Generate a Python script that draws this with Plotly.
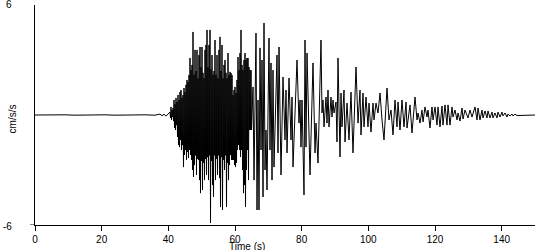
import plotly.graph_objects as go

# ---- data ----
# quiet pre-event record
pre_time = [0, 3, 6, 9, 12, 15, 18, 21, 24, 27, 30, 33, 36, 37.5, 38.1, 38.7, 39.3, 39.9]
pre_accel = [0.0, 0.01, -0.01, 0.01, -0.01, 0.01, -0.01, 0.01, -0.01, 0.01, -0.01, 0.01,
             -0.01, 0.05, -0.04, 0.04, -0.06, 0.08]

# strong-motion part, sampled every 0.15 s from 40.5 s
dense_start = 40.5
dense_step = 0.15
dense_accel = [
    0.16, -0.16, 0.44, -0.27, 0.27, -0.11, 0.38, -0.33, 0.82, -0.71,
    0.60, -0.82, 0.93, -0.55, 0.71, -1.20, 1.09, -1.64, 0.82, -1.75,
    1.25, -1.36, 1.36, -1.91, 0.93, -1.64, 1.09, -2.84, 1.47, -2.18,
    1.25, -1.91, 1.64, -2.45, 1.91, -2.02, 1.80, -2.35, 2.18, -1.91,
    3.11, -2.18, 2.45, -2.45, 2.73, -3.00, 4.53, -3.38, 2.20, -2.73,
    3.55, -2.20, 2.40, -3.27, 3.55, -2.40, 2.00, -2.45, 3.27, -3.55,
    3.71, -4.26, 2.60, -2.50, 3.71, -4.09, 2.30, -2.60, 2.00, -3.55,
    3.55, -2.40, 3.82, -3.27, 4.64, -2.30, 2.60, -3.55, 3.82, -2.20,
    4.64, -5.89, 2.50, -2.50, 3.27, -3.82, 2.20, -4.47, 2.40, -2.20,
    4.09, -3.55, 2.20, -2.40, 3.27, -3.27, 2.00, -2.20, 3.55, -3.44,
    4.26, -5.02, 2.40, -2.30, 3.82, -5.18, 2.00, -2.45, 2.73, -3.00,
    3.00, -2.20, 2.30, -5.02, 2.00, -2.60, 3.38, -3.55, 2.18, -2.73,
    2.35, -2.18, 2.29, -2.45, 2.18, -2.45, 1.09, -2.45, 1.36, -2.73,
    1.53, -2.84, 1.20, -2.62, 1.91, -1.91, 3.16, -1.64, 2.45, -1.91,
    3.38, -2.29, 4.64, -1.91, 2.73, -3.00, 2.45, -4.26, 3.00, -3.82,
    3.38, -5.02, 3.00, -3.00, 3.11, -1.91, 3.11, -3.55, 2.62, -0.82,
    2.45, -0.82, 2.45, -0.82,
]

# later part: turning points
late_time = [
    65.4, 65.7, 66.3, 66.6, 66.9, 67.2, 67.5, 67.8, 68.1, 68.4, 68.7, 69.0, 69.3, 69.6,
    70.2, 70.5, 70.8, 71.1, 71.4, 71.7, 72.6, 72.9, 73.2, 73.8, 74.4, 75.0, 75.3, 75.6,
    76.2, 76.8, 77.1, 77.4, 78.6, 79.2, 79.5, 79.8, 80.1, 80.7, 81.0, 81.3, 81.6, 82.5,
    83.4, 84.0, 84.3, 84.9, 85.8, 86.1, 86.4, 86.7, 87.3, 87.6, 87.9, 88.2, 88.8, 89.1,
    89.4, 89.7, 90.3, 90.6, 90.9, 91.5, 91.8, 92.1, 92.7, 93.0, 93.6, 94.2, 94.8, 95.4,
    96.3, 96.9, 97.5, 97.8, 98.4, 98.7, 99.3, 99.9, 100.2, 100.8, 101.4, 101.7, 102.3,
    102.9, 103.5, 104.1, 104.7, 105.6, 106.2, 106.8, 107.4, 108.0, 108.6, 108.9, 109.5,
    110.1, 110.7, 111.3, 111.6, 112.5, 113.1, 114.0, 114.6, 114.9, 115.5, 116.1, 116.4,
    117.0, 117.6, 117.9, 118.5, 119.1, 119.4, 120.0, 120.6, 120.9, 121.5, 122.1, 122.4,
    123.0, 123.6, 123.9, 124.5, 125.1, 125.4, 126.0, 126.6, 126.9, 127.5, 128.1, 128.4,
    129.0, 129.9, 130.5, 131.1, 132.0, 132.6, 132.9, 133.5, 134.1, 134.4, 135.0, 135.6,
    135.9, 136.5, 137.1, 137.4, 138.0, 138.6, 138.9, 139.5, 140.1, 140.4, 141.0, 141.6,
    141.9, 142.5, 143.1, 143.4, 144.0, 144.6, 150.0,
]
late_accel = [
    1.53, -3.55, 4.47, -5.18, 0.82, -5.18, 3.66, -1.91, 3.00, -4.47, 5.02, -3.00, -0.82, -4.09,
    4.20, -1.91, 2.84, -3.55, 2.45, -2.84, 3.27, -2.07, 3.71, -3.27, 2.07, -1.36, 1.36, -2.07,
    2.02, -1.36, 0.98, -2.84, 3.00, -0.44, 0.82, -1.75, 0.82, -4.36, 4.09, -1.75, 3.38, -3.27,
    2.84, -2.07, -0.44, -2.62, 4.09, 0.11, 0.82, -0.65, 0.98, -0.44, 1.36, -0.65, 0.98, -0.11,
    0.82, 0.11, 0.71, -1.47, 3.11, -2.29, 1.20, -0.65, 1.36, -1.47, 0.65, -1.36, 1.25, -2.07,
    2.62, -0.44, 1.36, -1.09, 1.20, -0.65, 0.98, -0.65, 0.65, -0.93, 0.65, -0.27, 0.65,
    0.11, 1.20, -0.27, -1.36, 1.47, -0.27, 0.27, -1.09, 0.82, -0.65, 0.71, -0.82,
    0.82, -0.65, 0.71, -0.71, 0.55, -0.98, 0.98, -0.27, 0.11, -0.44, 0.27, -0.38,
    0.44, -0.11, 0.27, -0.71, 0.44, -0.27, 0.44, -0.55, 0.44, -0.65, 0.49, -0.55,
    0.55, -0.55, 0.55, -0.55, 0.44, -0.11, 0.27, -0.27, 0.11, -0.33, 0.38, -0.22,
    0.27, -0.16, 0.27, -0.11, 0.44, -0.27, 0.38, -0.27, 0.27, -0.16, 0.22, -0.16,
    0.22, -0.16, 0.16, -0.16, 0.11, -0.16, 0.16, -0.11, 0.16, -0.05, 0.11, -0.11,
    0.05, -0.05, 0.05, -0.05, 0.05, -0.03, 0.0,
]

x_tick_vals = [0, 20, 40, 60, 80, 100, 120, 140]
y_tick_labels = ["6", "-6"]
y_tick_vals = [6, -6]

# ---- assemble series ----
dense_time = [dense_start + i * dense_step for i in range(len(dense_accel))]
time_all = pre_time + dense_time + late_time
accel_all = pre_accel + dense_accel + late_accel

font_family = "Liberation Sans, Arial, sans-serif"

fig = go.Figure()
fig.add_trace(go.Scatter(
    x=time_all, y=accel_all, mode="lines",
    line=dict(color="black", width=1),
    hoverinfo="skip", showlegend=False,
))

annotations = [
    dict(text="Time (s)", xref="paper", yref="paper", x=0.424, y=0,
         yshift=-21, xanchor="center", yanchor="middle", showarrow=False,
         font=dict(size=10)),
    dict(text="cm/s/s", xref="paper", yref="paper", x=0, y=0.48,
         xshift=-23, textangle=-90, xanchor="center", yanchor="middle",
         showarrow=False, font=dict(size=10)),
]
for lab, val in zip(y_tick_labels, y_tick_vals):
    annotations.append(dict(
        text=lab, xref="paper", yref="y", x=0, y=val, xshift=-21,
        yshift=1 if val > 0 else -1,
        xanchor="right", yanchor="middle", showarrow=False, font=dict(size=10),
    ))

fig.update_layout(
    width=550, height=250,
    margin=dict(l=35, r=15, t=5, b=25, autoexpand=False),
    paper_bgcolor="white", plot_bgcolor="white",
    font=dict(family=font_family, size=10, color="black"),
    xaxis=dict(
        range=[0, 150], tickvals=x_tick_vals, ticks="outside", ticklen=5,
        tickwidth=1, tickcolor="black", showline=True, linecolor="black",
        linewidth=1, showgrid=False, zeroline=False, automargin=False,
        tickfont=dict(size=10),
    ),
    yaxis=dict(
        range=[-6, 6], showticklabels=False, ticks="", showline=True,
        linecolor="black", linewidth=1, showgrid=False, zeroline=False,
        automargin=False,
    ),
    shapes=[dict(
        type="line", xref="paper", yref="y", xsizemode="pixel", xanchor=0,
        x0=-5, x1=0, y0=-6, y1=-6, line=dict(color="black", width=1),
    )],
    annotations=annotations,
)

fig.write_html("out.html")
